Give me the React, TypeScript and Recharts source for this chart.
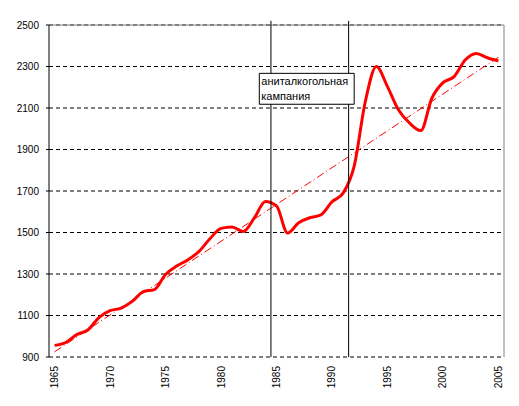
import * as React from "react";
import {
  LineChart,
  Line,
  XAxis,
  YAxis,
  CartesianGrid,
  ReferenceLine,
  ReferenceArea,
} from "recharts";

const years = [
  1965, 1966, 1967, 1968, 1969, 1970, 1971, 1972, 1973, 1974,
  1975, 1976, 1977, 1978, 1979, 1980, 1981, 1982, 1983, 1984,
  1985, 1986, 1987, 1988, 1989, 1990, 1991, 1992, 1993, 1994,
  1995, 1996, 1997, 1998, 1999, 2000, 2001, 2002, 2003, 2004, 2005,
];

const values = [
  956, 970, 1008, 1030, 1090, 1123, 1136, 1168, 1215, 1225,
  1298, 1338, 1368, 1408, 1470, 1520, 1527, 1505, 1570, 1650,
  1628, 1497, 1547, 1571, 1585, 1648, 1690, 1820, 2130, 2300,
  2203, 2090, 2027, 1991, 2147, 2222, 2251, 2331, 2363, 2342, 2327,
];

// linear trend, first and last year only
const trendEnds = [925, 2345];

const yearLabels = [1965, 1970, 1975, 1980, 1985, 1990, 1995, 2000, 2005];
const yTicks = [900, 1100, 1300, 1500, 1700, 1900, 2100, 2300, 2500];

const campaignBounds = [1984.5, 1991.5];
const noteLines = ["аниталкогольная", "кампания"];
// note box in data units: [x1, x2], [yBottom, yTop]
const noteX = [1983.45, 1992.0];
const noteY = [2118, 2267];

const FONT = "'Liberation Sans', Arial, sans-serif";

const data = years.map((year, i) => ({
  year,
  value: values[i],
  trend: i === 0 ? trendEnds[0] : i === years.length - 1 ? trendEnds[1] : null,
}));

// category boundaries (Excel puts the tick marks between years)
const boundaries = [...years.map((y) => y - 0.5), years[years.length - 1] + 0.5];
const xDomain = [boundaries[0], boundaries[boundaries.length - 1]];

function YearTick(props: any) {
  const { x, y, payload } = props;
  return (
    <text
      x={x}
      y={y}
      transform={`rotate(-90 ${x} ${y})`}
      textAnchor="end"
      dy="0.35em"
      fontSize={10}
      fontFamily={FONT}
      fill="#000"
    >
      {payload.value}
    </text>
  );
}

function NoteLabel(props: any) {
  const vb = props.viewBox || {};
  return (
    <text x={vb.x + 2} y={vb.y} fontSize={11} fontFamily={FONT} fill="#000">
      <tspan x={vb.x + 2} dy={11.5}>{noteLines[0]}</tspan>
      <tspan x={vb.x + 2} dy={15}>{noteLines[1]}</tspan>
    </text>
  );
}

export default function App() {
  return (
    <div style={{ position: "absolute", left: 0, top: 0, width: 519, height: 406, background: "#fff" }}>
      <LineChart
        width={519}
        height={406}
        data={data}
        margin={{ top: 25, right: 15, bottom: 0, left: 0 }}
      >
        <CartesianGrid
          xAxisId="year"
          vertical={false}
          stroke="#000"
          strokeDasharray="4 3"
        />
        <XAxis
          xAxisId="minor"
          type="number"
          domain={xDomain}
          ticks={boundaries}
          allowDataOverflow
          tick={false}
          tickSize={4}
          height={0}
          axisLine={{ stroke: "#000" }}
          tickLine={{ stroke: "#000" }}
        />
        <XAxis
          xAxisId="year"
          type="number"
          dataKey="year"
          domain={xDomain}
          ticks={yearLabels}
          allowDataOverflow
          interval={0}
          axisLine={false}
          tickLine={false}
          tickSize={4}
          tickMargin={5}
          height={49}
          tick={<YearTick />}
        />
        <YAxis
          type="number"
          domain={[900, 2500]}
          ticks={yTicks}
          interval={0}
          width={49}
          tickSize={3}
          tickMargin={7}
          axisLine={{ stroke: "#000" }}
          tickLine={{ stroke: "#000" }}
          tick={{ fontSize: 10, fontFamily: FONT, fill: "#000" }}
        />
        <ReferenceLine xAxisId="year" y={2500} stroke="#808080" />
        <ReferenceLine xAxisId="year" x={xDomain[1]} stroke="#808080" />
        <Line
          xAxisId="year"
          type="linear"
          dataKey="trend"
          connectNulls
          stroke="#ff0000"
          strokeWidth={1}
          strokeDasharray="8 3 1 3"
          dot={false}
          activeDot={false}
          isAnimationActive={false}
        />
        <Line
          xAxisId="year"
          type="monotone"
          dataKey="value"
          stroke="#ff0000"
          strokeWidth={3}
          dot={false}
          activeDot={false}
          isAnimationActive={false}
        />
        {/* vertical markers, interrupted where the note box sits on top of them */}
        {campaignBounds.map((b) => (
          <ReferenceLine
            key={`lo-${b}`}
            xAxisId="year"
            segment={[{ x: b, y: 900 }, { x: b, y: noteY[0] }]}
            ifOverflow="visible"
            stroke="#000"
          />
        ))}
        {campaignBounds.map((b) => (
          <ReferenceLine
            key={`hi-${b}`}
            xAxisId="year"
            segment={[{ x: b, y: noteY[1] }, { x: b, y: 2520 }]}
            ifOverflow="visible"
            stroke="#000"
          />
        ))}
        <ReferenceArea
          xAxisId="year"
          x1={noteX[0]}
          x2={noteX[1]}
          y1={noteY[0]}
          y2={noteY[1]}
          ifOverflow="visible"
          fill="#fff"
          fillOpacity={1}
          stroke="#000"
          strokeOpacity={1}
          label={<NoteLabel />}
        />
      </LineChart>
    </div>
  );
}
